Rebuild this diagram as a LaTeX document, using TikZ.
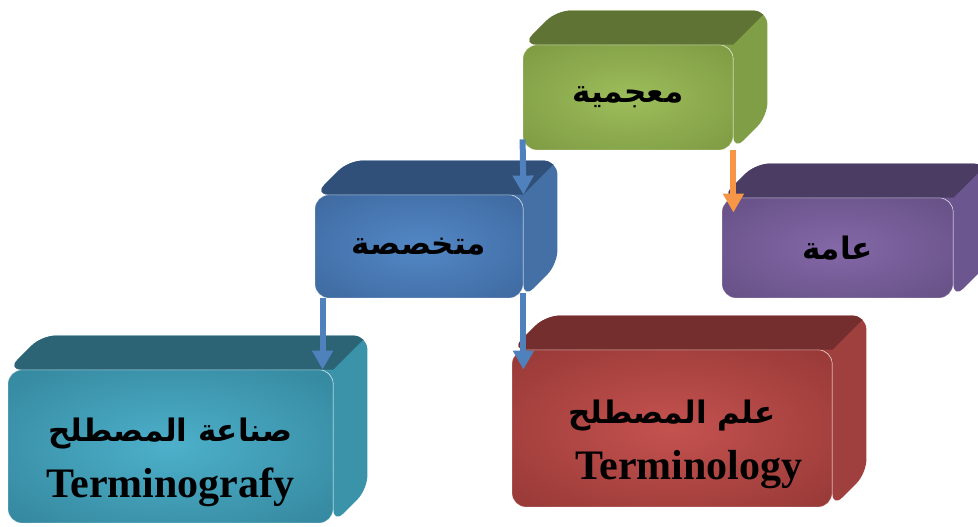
\documentclass[tikz,border=0pt]{standalone}
\usepackage{fontspec}
\setmainfont{Liberation Serif}
\newfontfamily\arabicfont[Script=Arabic]{DejaVu Sans}
\TeXXeTstate=1
\usetikzlibrary{arrows.meta,backgrounds,calc}

\definecolor{lexIn}{HTML}{9DBD5B}
\definecolor{lexOut}{HTML}{76923C}
\definecolor{lexTop}{HTML}{5F7335}
\definecolor{lexSide}{HTML}{7F9E46}
\definecolor{specIn}{HTML}{5288C6}
\definecolor{specOut}{HTML}{3A6196}
\definecolor{specTop}{HTML}{30507A}
\definecolor{specSide}{HTML}{4470A5}
\definecolor{genIn}{HTML}{8468A8}
\definecolor{genOut}{HTML}{5E4A7C}
\definecolor{genTop}{HTML}{4B3C63}
\definecolor{genSide}{HTML}{6C5690}
\definecolor{tgrafIn}{HTML}{4DB0CA}
\definecolor{tgrafOut}{HTML}{2E7D93}
\definecolor{tgrafTop}{HTML}{2C6475}
\definecolor{tgrafSide}{HTML}{3B93AA}
\definecolor{tlogyIn}{HTML}{C4524F}
\definecolor{tlogyOut}{HTML}{8C3331}
\definecolor{tlogyTop}{HTML}{742E2D}
\definecolor{tlogySide}{HTML}{A0403E}
\definecolor{arrBlue}{HTML}{4F81BD}
\definecolor{arrOrange}{HTML}{F79646}

\colorlet{faceIn}{white}
\colorlet{faceOut}{black}
\pgfdeclareradialshading[faceIn,faceOut]{face}{\pgfpoint{0bp}{0bp}}{color(0bp)=(faceIn); color(44bp)=(faceOut); color(50bp)=(faceOut)}

\newcommand\ar[1]{{\arabicfont\fontsize{31}{36}\selectfont\beginR#1\endR}}

\tikzset{
every picture/.style={
line width=1pt
},
face in/.code={\colorlet{faceIn}{#1}},
face out/.code={\colorlet{faceOut}{#1}},
face/.style={rounded corners=14pt, shading=face, inner sep=0pt, align=center,
  draw=white, draw opacity=0.3, line width=0.8pt,
  font=\bfseries\fontsize{42}{56}\selectfont},
arr/.style={-{Triangle[width=20pt,length=19pt]}, line width=6pt, draw=arrBlue}
}

\begin{document}
\begin{tikzpicture}[x=1pt,y=1pt]
\useasboundingbox (0,0) rectangle (978,527);

\node[face, face in=lexIn, face out=lexOut, minimum width=210, minimum height=105] (lex) at (628,429.5) {\ar{معجمية}};
\node[face, face in=specIn, face out=specOut, minimum width=208, minimum height=103] (spec) at (419,280.5) {\ar{متخصصة}};
\node[face, face in=genIn, face out=genOut, minimum width=231, minimum height=100] (gen) at (837.5,279) {\ar{عامة}};
\node[face, face in=tgrafIn, face out=tgrafOut, minimum width=325, minimum height=153] (tgraf) at (170.5,80.5) {\rule{0pt}{56pt}\ar{صناعة المصطلح}\\Terminografy};
\node[face, face in=tlogyIn, face out=tlogyOut, minimum width=320, minimum height=157] (tlogy) at (672,98.5) {\rule{0pt}{56pt}\ar{علم المصطلح}\\\hspace*{34pt}Terminology};

% top and side faces behind the boxes
\begin{scope}[on background layer]
\foreach \n/\t/\s in {lex/lexTop/lexSide, spec/specTop/specSide, gen/genTop/genSide, tgraf/tgrafTop/tgrafSide, tlogy/tlogyTop/tlogySide}{
  \begin{scope}
  \clip[rounded corners=14pt] (\n.north west) -- ++(34,34) -- ([shift={(34,34)}]\n.north east) -- ([shift={(34,34)}]\n.south east) -- (\n.south east) -- (\n.north east) -- cycle;
  \fill[\s] (\n.south west) rectangle ([shift={(40,40)}]\n.north east);
  \fill[\t] (\n.north west) -- ++(34,34) -- ([shift={(34,34)}]\n.north east) -- (\n.north east) -- cycle;
  \end{scope}
}
\end{scope}

\draw[arr] ([yshift=11pt]lex.south west) -- (spec.north east);
\draw[arr, draw=arrOrange] (lex.south east) -- ($(gen.north -| lex.south east)+(0,-15)$);
\draw[arr] ([xshift=8pt]spec.south west) coordinate (a) -- (a |- tgraf.north);
\draw[arr] ([yshift=5pt]spec.south east) -- ($(spec.south east |- tlogy.north)+(0,-20)$);

\end{tikzpicture}
\end{document}
